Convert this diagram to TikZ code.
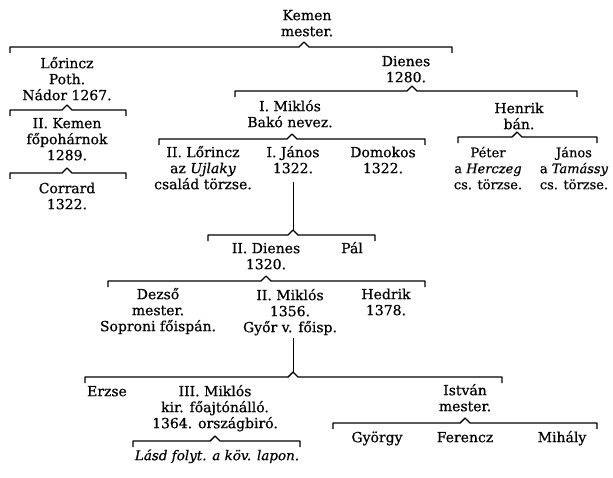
\documentclass[tikz,border=0pt]{standalone}
\usepackage{fontspec}
\setmainfont{DejaVu Serif}[FakeBold=0.5]
\normallineskiplimit=-20pt
\tikzset{
  person/.style={align=center, inner sep=0pt, anchor=north, font=\fontsize{14}{16}\selectfont},
  small/.style={font=\fontsize{13}{16}\selectfont},
  famline/.style={line width=1.4pt, line join=round},
  descent/.style={line width=0.9pt}
}
% \pnode[extra]{name}{x}{first baseline}{text}
\newcommand\pnode[5][]{\node[person,#1] (#2) at (#3,{#4-14}) {\rule{0pt}{14pt}#5};}
% \famline{x1}{x2}{caret x}{y}
\newcommand\famline[4]{\draw[famline] (#1,{#4+6}) -- (#1,#4) -- ({#3-5},#4) -- (#3,{#4-5}) -- ({#3+5},#4) -- (#2,#4) -- (#2,{#4+6});}
\begin{document}
\begin{tikzpicture}[x=1pt,y=-1pt]
\useasboundingbox[fill=white] (0,0) rectangle (613,477);
% generation 1
\pnode{kemen}{307}{20}{Kemen\\mester.}
\famline{10}{452}{304}{47}
% left branch
\pnode{lorincz}{67}{68}{Lőrincz\\Poth.\\Nádor 1267.}
\famline{10}{126}{67}{110}
\pnode{kemenii}{67}{128}{II. Kemen\\főpohárnok\\1289.}
\famline{10}{126}{67}{173}
\pnode{corrard}{67}{193}{Corrard\\1322.}
% right branch
\pnode{dienes}{406}{66}{Dienes\\1280.}
\famline{235}{577}{412}{91}
\pnode{miklosi}{290}{111}{I. Miklós\\Bakó nevez.}
\famline{159}{425}{292}{139}
\pnode{lorinczii}{203}{157}{II. Lőrincz\\az \textit{Ujlaky}\\család törzse.}
\pnode{janosi}{293}{157}{I. János\\1322.}
\pnode{domokos}{383}{157}{Domokos\\1322.}
\pnode{henrik}{519}{113}{Henrik\\bán.}
\famline{458}{597}{517}{137}
\pnode[small]{peter}{488}{157}{Péter\\a \textit{Herczeg}\\cs. törzse.}
\pnode[small]{janos}{574}{157}{János\\a \textit{Tamássy}\\cs. törzse.}
% descent from I. János
\coordinate (g) at (293,230);
\draw[descent] (janosi.south |- 0,182) -- (g);
\famline{208}{375}{293}{235}
\pnode{dienesii}{266}{253}{II. Dienes\\1320.}
\pnode{pal}{352}{253}{Pál}
\famline{108}{425}{266}{281}
\pnode{dezso}{158}{299}{Dezső\\mester.\\Soproni főispán.}
\pnode{miklosii}{290}{300}{II. Miklós\\1356.\\Győr v. főisp.}
\pnode{hedrik}{386}{299}{Hedrik\\1378.}
% descent from II. Miklós
\coordinate (i) at (293,372);
\draw[descent] (293,338) -- (i);
\famline{85}{502}{293}{377}
\pnode{erzse}{107}{396}{Erzse}
\pnode{miklosiii}{215}{396}{III. Miklós\\kir. főajtónálló.\\1364. országbiró.}
\famline{133}{300}{215}{441}
\pnode{lasd}{217}{460}{\fontsize{13.5}{16}\selectfont\textit{Lásd folyt. a köv. lapon.}}
\pnode{istvan}{465}{395}{István\\mester.}
\famline{333}{597}{465}{423}
\pnode{gyorgy}{377}{442}{György}
\pnode{ferencz}{465}{442}{Ferencz}
\pnode{mihaly}{562}{442}{Mihály}
\end{tikzpicture}
\end{document}
